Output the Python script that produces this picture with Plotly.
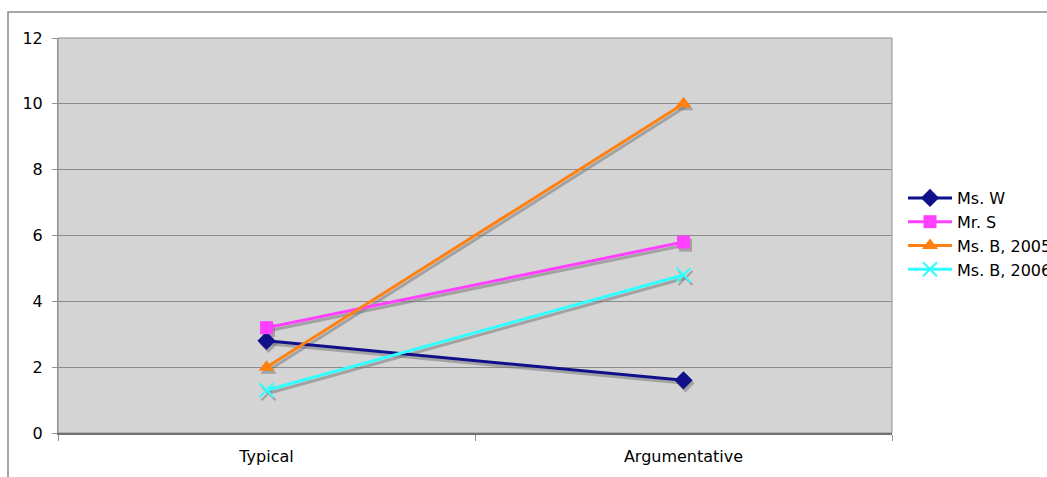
import plotly.graph_objects as go

# Writing-task scores by teacher
categories = ["Typical", "Argumentative"]
series_names = ["Ms. W", "Mr. S", "Ms. B, 2005", "Ms. B, 2006"]
ms_w = [2.8, 1.6]
mr_s = [3.2, 5.8]
ms_b_2005 = [2.0, 10.0]
ms_b_2006 = [1.3, 4.8]
y_ticks = [0, 2, 4, 6, 8, 10, 12]

values = [ms_w, mr_s, ms_b_2005, ms_b_2006]
colors = ["#10108a", "#ff40ff", "#ff8010", "#30ffff"]
symbols = ["diamond", "square", "triangle-up", "x-thin"]
sizes = [14, 13, 14, 14]

W, H = 1047, 477
L, R, T, B = 58, 155, 38, 44
plot_w = W - L - R
plot_h = H - T - B
font = dict(family="DejaVu Sans, Verdana, sans-serif", size=16, color="#000000")

fig = go.Figure()

# drop shadows live on the base axes, whose range is nudged a few pixels;
# the visible series sit on the overlay axes, drawn above them
sx, sy = 2, 3
xr = (-0.5, 1.5)
yr = (0, 12)
dx = (xr[1] - xr[0]) * sx / plot_w
dy = (yr[1] - yr[0]) * sy / plot_h
shadow = "rgba(120,120,120,0.55)"
for name, vals, sym, sz in zip(series_names, values, symbols, sizes):
    fig.add_trace(go.Scatter(
        x=categories, y=vals, mode="lines+markers", xaxis="x", yaxis="y",
        line=dict(color=shadow, width=3),
        marker=dict(symbol=sym, size=sz, color=shadow,
                    line=dict(width=2 if sym == "x-thin" else 0, color=shadow)),
        showlegend=False, hoverinfo="skip"))

for name, vals, col, sym, sz in zip(series_names, values, colors, symbols, sizes):
    fig.add_trace(go.Scatter(
        x=categories, y=vals, mode="lines+markers", name=name,
        xaxis="x2", yaxis="y2",
        line=dict(color=col, width=3),
        marker=dict(symbol=sym, size=sz, color=col,
                    line=dict(width=2 if sym == "x-thin" else 0, color=col))))

fig.update_layout(
    width=W, height=H,
    margin=dict(l=L, r=R, t=T, b=B, autoexpand=False),
    paper_bgcolor="#ffffff",
    plot_bgcolor="#d4d4d4",
    font=font,
    showlegend=True,
    legend=dict(x=(903 - L) / plot_w, y=(433 - 234) / plot_h,
                xanchor="left", yanchor="middle",
                bgcolor="rgba(0,0,0,0)", font=dict(size=16),
                tracegroupgap=0, itemwidth=44),
    xaxis=dict(type="category", categoryorder="array", categoryarray=categories,
               range=[xr[0] - dx, xr[1] - dx], visible=False),
    yaxis=dict(range=[yr[0] + dy, yr[1] + dy], visible=False),
    xaxis2=dict(type="category", categoryorder="array", categoryarray=categories,
                overlaying="x", side="bottom",
                range=list(xr), tickson="boundaries", ticks="outside", ticklen=6,
                tickcolor="#909090", showgrid=False, showline=True,
                linecolor="#707070", linewidth=2, zeroline=False,
                ticklabelstandoff=8),
    yaxis2=dict(overlaying="y", side="left",
                range=list(yr), tickvals=y_ticks, ticks="outside", ticklen=5,
                tickcolor="#909090", showgrid=True, gridcolor="#8c8c8c", gridwidth=1,
                showline=True, linecolor="#909090", linewidth=1, zeroline=False,
                ticklabelstandoff=6),
)

# plot-area outline and the outer chart frame
fig.add_shape(type="rect", xref="paper", yref="paper", x0=0, x1=1, y0=0, y1=1,
              line=dict(color="#909090", width=1), layer="below")
fig.add_shape(type="rect", xref="paper", yref="paper",
              x0=(8 - L) / plot_w, x1=(W + 20 - L) / plot_w,
              y0=-(H + 20 - T - plot_h) / plot_h, y1=1 + (T - 12) / plot_h,
              line=dict(color="#8a8a8a", width=1.5), layer="below")

fig.write_html("out.html")
